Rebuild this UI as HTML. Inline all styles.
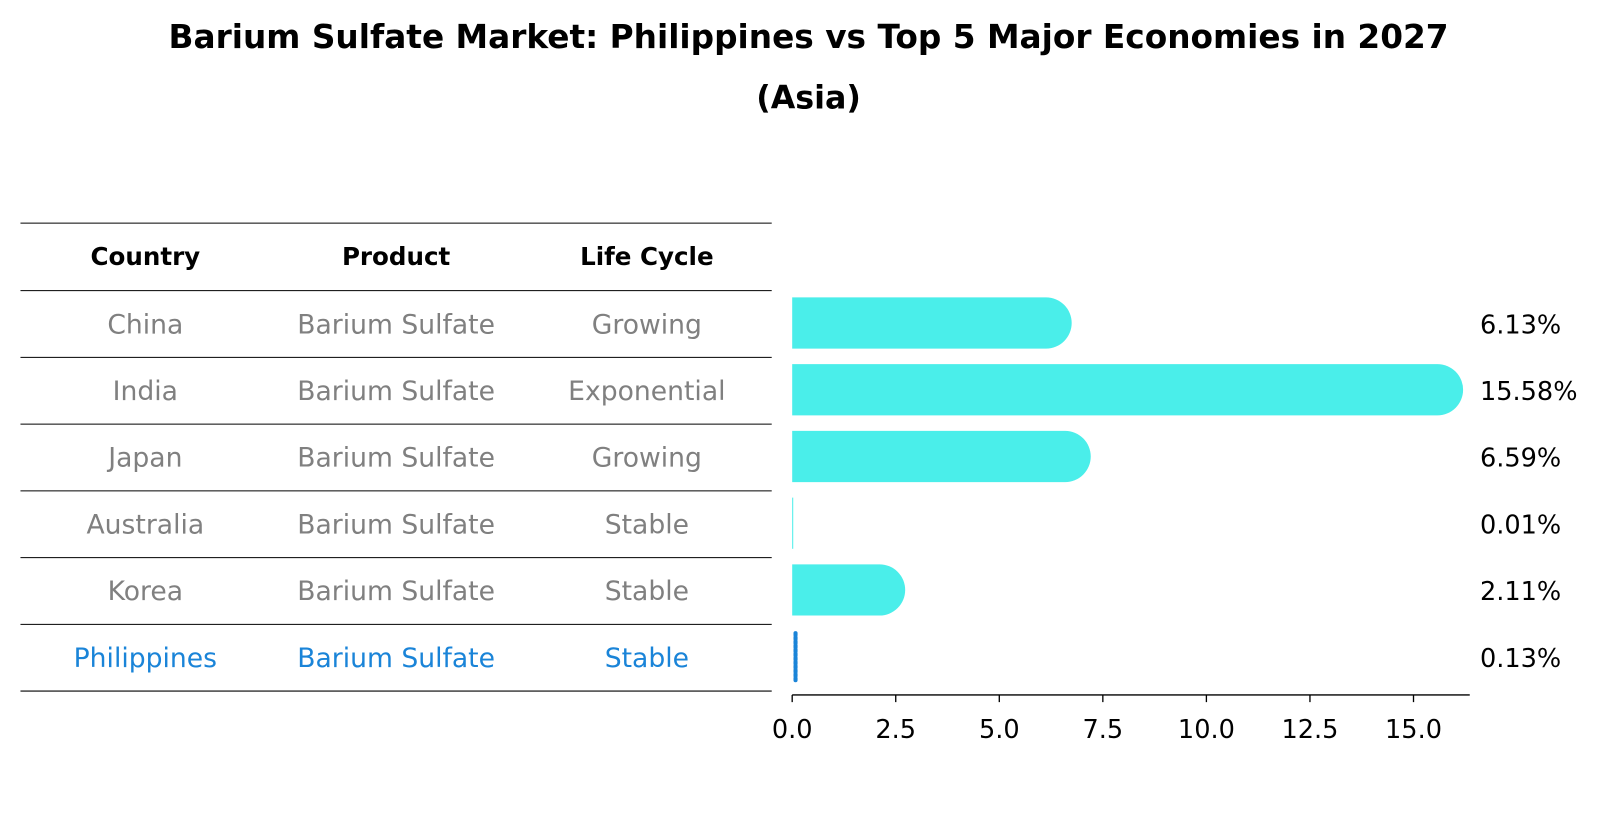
<!DOCTYPE html>
<html><head><meta charset="utf-8"><style>
body{margin:0;background:#fff;}
svg{display:block;font-family:"DejaVu Sans","Liberation Sans",sans-serif;}
</style></head><body>
<svg id="chart" width="1604" height="823" viewBox="0 0 1604 823">
<g transform="scale(1.0235)">
<text x="790" y="47" text-anchor="middle" font-size="32" font-weight="bold">Barium Sulfate Market: Philippines vs Top 5 Major Economies in 2027</text>
<text x="790" y="106" text-anchor="middle" font-size="31" font-weight="bold">(Asia)</text>
<g id="table"></g>
<g id="bars"></g>
</g>
</svg>
<script>
const countries=["China","India","Japan","Australia","Korea","Philippines"];
const products=["Barium Sulfate","Barium Sulfate","Barium Sulfate","Barium Sulfate","Barium Sulfate","Barium Sulfate"];
const lifecycles=["Growing","Exponential","Growing","Stable","Stable","Stable"];
const values=[6.13,15.58,6.59,0.01,2.11,0.13];
const tickLabels=["0.0","2.5","5.0","7.5","10.0","12.5","15.0"];
const tickValues=[0,2.5,5,7.5,10,12.5,15];

const NS="http://www.w3.org/2000/svg";
function mk(tag,attrs,parent,text){const e=document.createElementNS(NS,tag);for(const k in attrs)e.setAttribute(k,attrs[k]);if(text!==undefined)e.textContent=text;parent.appendChild(e);return e;}
const tbl=document.getElementById('table');
const bars=document.getElementById('bars');
const rowH=65.2, top0=218, hdrH=66;
const colX=[142,387,632];
for(let i=0;i<=countries.length+1;i++){
  const y=i===0?top0:top0+hdrH+(i-1)*rowH;
  const l=mk('line',{x1:20,x2:754,y1:y,y2:y,stroke:'#000','stroke-width':1},tbl);
  
  
}
["Country","Product","Life Cycle"].forEach((h,j)=>{
  const t=mk('text',{x:colX[j],y:top0+41,'text-anchor':'middle','font-size':24,'font-weight':'bold'},tbl,h);
  
  
});
const yC=i=>top0+hdrH+i*rowH+rowH/2;
countries.forEach((c,i)=>{
  const col=c==="Philippines"?'#1a84d8':'#808080';
  [c,products[i],lifecycles[i]].forEach((v,j)=>{
    const t=mk('text',{x:colX[j],y:yC(i)+9,'text-anchor':'middle','font-size':26,fill:col},tbl,v);
    
    
  });
});
const x0=774, pxPer=40.47;
const xs=v=>x0+v*pxPer;
const bh=50;
values.forEach((v,i)=>{
  const cy=yC(i)-1;
  if(countries[i]==="Philippines"){
    const l=mk('line',{x1:xs(v)-2,x2:xs(v)-2,y1:cy-bh/2+2,y2:cy+bh/2-2,stroke:'#1a84d8','stroke-width':4,'stroke-dasharray':'2 2','stroke-linecap':'round'},bars);
    
    
  } else {
    const w=xs(v)-x0, r=bh/2;
    let d;
    if(w<1){d=`M${x0},${cy-r}h1v${bh}h-1z`;}
    else d=`M${x0},${cy-r}H${x0+w}A${r},${r} 0 0 1 ${x0+w},${cy+r}H${x0}Z`;
    const p=mk('path',{d:d,fill:'#4aeeea'},bars);
    
    
  }
  const t=mk('text',{x:1446,y:cy+10,'font-size':25},bars,v.toFixed(2)+'%');
  
  
});
const ax=mk('line',{x1:x0,x2:1436,y1:679,y2:679,stroke:'#000','stroke-width':1.3},bars);


tickValues.forEach((tv,k)=>{
  const tk=mk('line',{x1:xs(tv),x2:xs(tv),y1:679,y2:686,stroke:'#000','stroke-width':1.3},bars);
  
  
  const t=mk('text',{x:xs(tv),y:721,'text-anchor':'middle','font-size':25},bars,tickLabels[k]);
  
  
});
</script>
</body></html>
